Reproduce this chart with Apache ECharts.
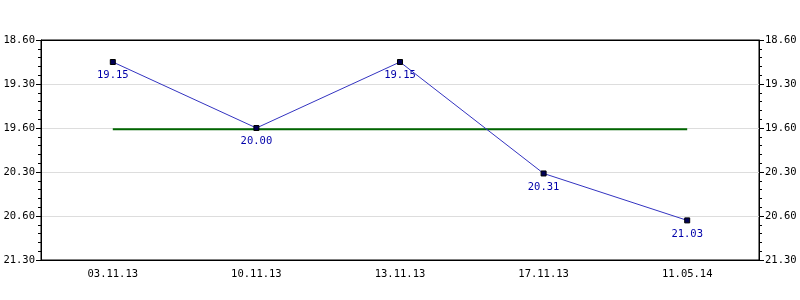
<!DOCTYPE html>
<html><head><meta charset="utf-8">
<script src="https://cdn.jsdelivr.net/npm/echarts@6/dist/echarts.min.js"></script>
<style>html,body{margin:0;padding:0;background:#fff}#c{width:800px;height:300px}</style>
</head><body><div id="c"></div>
<script>
const categories = ["03.11.13","10.11.13","13.11.13","17.11.13","11.05.14"];
const timeLabels = ["19.15","20.00","19.15","20.31","21.03"];
const tickLabels = ["18.60","19.30","19.60","20.30","20.60","21.30"];
const averageLabel = "20.01";

function toSec(s){const p=s.split('.');return (+p[0])*60+(+p[1]);}
const values = timeLabels.map(toSec);
const avgVal = toSec(averageLabel) - 0.2;
const avgLine = categories.map(()=>avgVal);

const font = {fontFamily:'DejaVu Sans Mono',fontSize:10.5,color:'#000'};
const yBase = {
  type:'value', inverse:true, min:1140, max:1290, interval:30,
  axisLine:{show:true,lineStyle:{color:'#000',width:1}},
  axisTick:{show:true,length:5,lineStyle:{color:'#000'}},
  minorTick:{show:true,splitNumber:5,length:3,lineStyle:{color:'#000'}},
  axisLabel:Object.assign({margin:6,formatter:(v,i)=>tickLabels[Math.round((v-1140)/30)]},font),
};
const chart = echarts.init(document.getElementById('c'),null,{renderer:'canvas'});
chart.setOption({
  animation:false,
  grid:{left:41,right:41,top:40,bottom:40,show:true,borderColor:'#000',borderWidth:1,backgroundColor:'transparent'},
  xAxis:[{type:'category',data:categories,boundaryGap:true,position:'bottom',
    axisLine:{onZero:false,lineStyle:{color:'#000'}},
    axisTick:{alignWithLabel:true,length:5,lineStyle:{color:'#000'}},
    axisLabel:Object.assign({margin:9},font),splitLine:{show:false}},
    {type:'category',data:categories,position:'top',
    axisLine:{onZero:false,lineStyle:{color:'#000'}},
    axisTick:{show:false},axisLabel:{show:false},splitLine:{show:false}}],
  yAxis:[
    Object.assign({},yBase,{position:'left',splitLine:{show:true,showMinLine:false,showMaxLine:false,lineStyle:{color:'#dddddd'}}}),
    Object.assign({},yBase,{position:'right',splitLine:{show:false}})
  ],
  series:[
    {type:'line',data:avgLine,symbol:'none',z:1,lineStyle:{color:'#006600',width:2},silent:true},
    {type:'line',data:values,z:3,symbol:'rect',symbolSize:5,
      lineStyle:{color:'#3333c0',width:1},
      itemStyle:{color:'#000055',borderColor:'#000',borderWidth:1},
      label:{show:true,position:'bottom',distance:5,color:'#0000aa',fontFamily:'DejaVu Sans Mono',fontSize:10.5,
        formatter:(p)=>timeLabels[p.dataIndex]}}
  ]
});
</script></body></html>
